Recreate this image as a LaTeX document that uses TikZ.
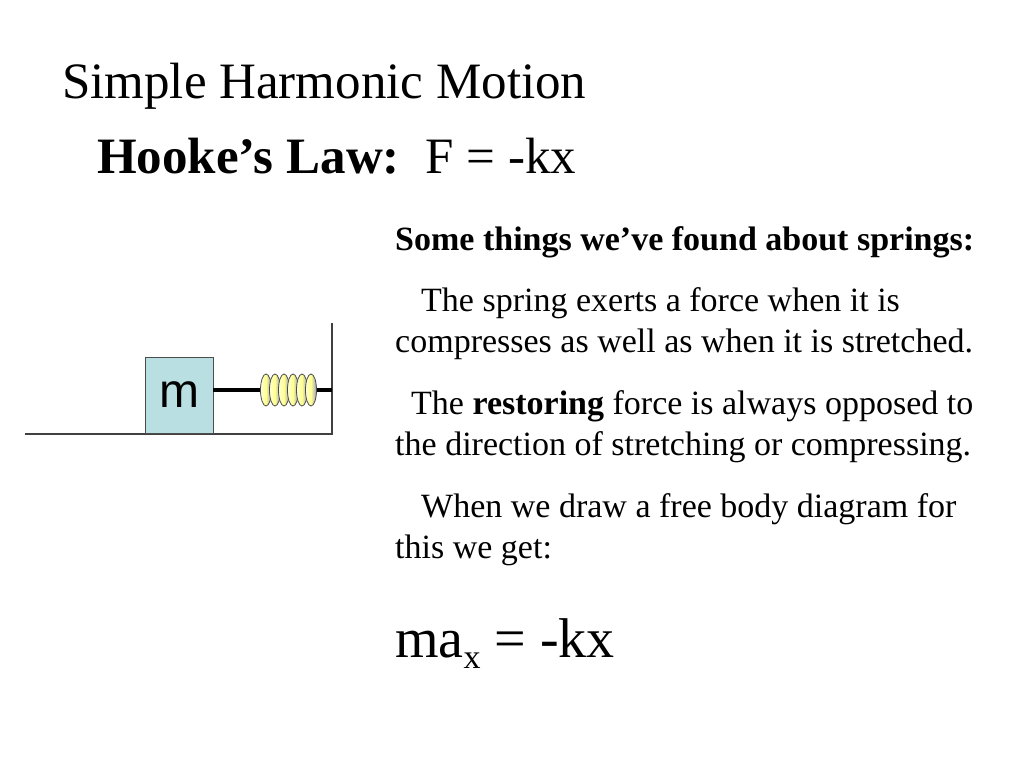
\documentclass[tikz,border=0pt]{standalone}
\usepackage{fontspec}
\setmainfont{Liberation Serif}
\setsansfont{Liberation Sans}
\definecolor{massfill}{RGB}{185,223,227}
\begin{document}
\begin{tikzpicture}[x=1pt,y=-1pt,
  txt/.style={anchor=base west,inner sep=0pt,font=\fontsize{34}{34}\selectfont},
  coil/.style={draw=black!70,line width=0.8pt,left color=yellow!15,right color=gray!70!blue!60,middle color=yellow!45}]
\useasboundingbox[fill=white] (0,0) rectangle (1024,768);
\node[anchor=base west,inner sep=0pt,font=\fontsize{51}{51}\selectfont] (title) at (62,98) {Simple Harmonic Motion};
\node[anchor=base west,inner sep=0pt,font=\fontsize{51}{51}\selectfont] (hooke) at (97,173) {\textbf{Hooke’s Law:}\hspace{26pt}F = -kx};
\node[txt] (l1) at (395,250) {\textbf{Some things we’ve found about springs:}};
\node[txt] (l2) at (421,311) {The spring exerts a force when it is};
\node[txt] (l3) at (395,352) {compresses as well as when it is stretched.};
\node[txt] (l4) at (411,414) {The \textbf{restoring} force is always opposed to};
\node[txt] (l5) at (395,455) {the direction of stretching or compressing.};
\node[txt] (l6) at (421,517) {When we draw a free body diagram for};
\node[txt] (l7) at (395,558) {this we get:};
\node[anchor=base west,inner sep=0pt,font=\fontsize{56}{56}\selectfont] (eq) at (395,657) {ma\raisebox{-11pt}{\fontsize{34}{34}\selectfont x} = -kx};
% floor and wall
\coordinate (f0) at (25,434); \coordinate (f1) at (332,434); \coordinate (w1) at (332,323);
\draw[line width=1.2pt,black!75] (f0) -- (f1) -- (w1);
% mass
\node[draw=black!70,fill=massfill,minimum width=68pt,minimum height=76pt,inner sep=0pt,
  font=\sffamily\fontsize{48}{48}\selectfont] (m) at (179,395) {m};
\coordinate (wr) at (332,390);
\draw[line width=4pt] (m.east |- wr) -- (wr);
\foreach \x in {266,275,284,293,302,311}{
  \shade[coil] (\x,390) ellipse (5.5 and 16);
}
\end{tikzpicture}
\end{document}
